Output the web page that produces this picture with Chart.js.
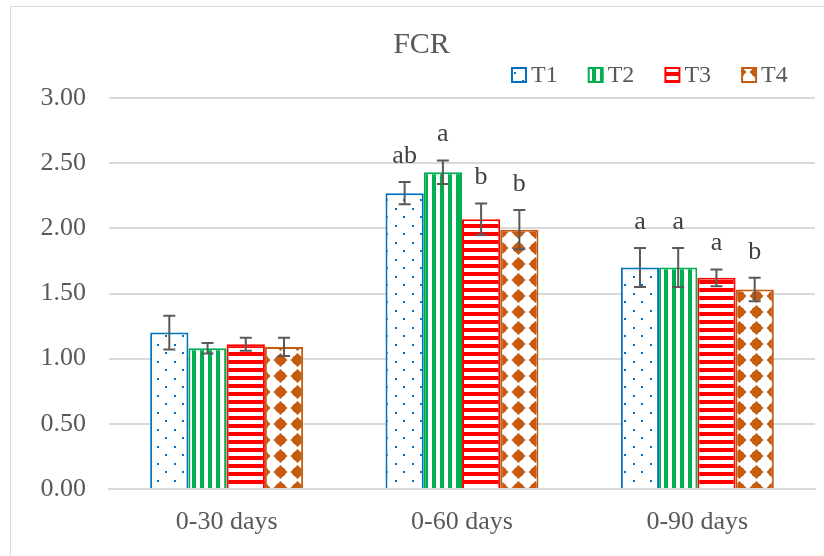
<!DOCTYPE html>
<html>
<head>
<meta charset="utf-8">
<script src="https://cdn.jsdelivr.net/npm/chart.js@4"></script>
<style>
    html, body { margin: 0; padding: 0; background: #fff; overflow: hidden; }
    #frame { position: absolute; left: 10px; top: 6px; width: 900px; height: 700px; border: 1px solid #D9D9D9; }
    #fcrChart { position: absolute; left: 0; top: 0; }
</style>
</head>
<body>
<div id="frame"></div>
<canvas id="fcrChart" width="824" height="556"></canvas>
<script>
// data
const categories = ['0-30 days', '0-60 days', '0-90 days'];
const seriesNames = ['T1', 'T2', 'T3', 'T4'];

const t1Values = [1.20, 2.27, 1.70];
const t2Values = [1.08, 2.43, 1.70];
const t3Values = [1.11, 2.07, 1.62];
const t4Values = [1.09, 1.99, 1.53];

const t1Errors = [0.13, 0.085, 0.15];
const t2Errors = [0.04, 0.09, 0.15];
const t3Errors = [0.05, 0.12, 0.065];
const t4Errors = [0.07, 0.15, 0.09];

const t1Letters = ['', 'ab', 'a'];
const t2Letters = ['', 'a', 'a'];
const t3Letters = ['', 'b', 'a'];
const t4Letters = ['', 'b', 'b'];

const yTicks = [0, 0.5, 1, 1.5, 2, 2.5, 3];

const FONT = "'Liberation Serif', 'Times New Roman', serif";
const TEXT = '#595959';
const GRID = '#D9D9D9';

// Excel-like fill patterns
function makePattern(kind, color) {
    const c = document.createElement('canvas');
    const ctx = c.getContext('2d');
    if (kind === 'dots') {
        c.width = 17; c.height = 17;
        ctx.fillStyle = '#fff';
        ctx.fillRect(0, 0, 17, 17);
        ctx.fillStyle = color;
        ctx.fillRect(4, 4, 2, 2);
        ctx.fillRect(12, 12, 2, 2);
    } else if (kind === 'vstripes') {
        c.width = 8; c.height = 8;
        ctx.fillStyle = '#fff';
        ctx.fillRect(0, 0, 8, 8);
        ctx.fillStyle = color;
        ctx.fillRect(0, 0, 4, 8);
    } else if (kind === 'hstripes') {
        c.width = 8; c.height = 8;
        ctx.fillStyle = '#fff';
        ctx.fillRect(0, 0, 8, 8);
        ctx.fillStyle = color;
        ctx.fillRect(0, 0, 8, 4);
    } else if (kind === 'diamonds') {
        c.width = 17; c.height = 16;
        ctx.fillStyle = '#fff';
        ctx.fillRect(0, 0, 17, 16);
        ctx.fillStyle = color;
        ctx.beginPath();
        ctx.moveTo(8.5, 1);
        ctx.lineTo(15.5, 8);
        ctx.lineTo(8.5, 15);
        ctx.lineTo(1.5, 8);
        ctx.closePath();
        ctx.fill();
        ctx.fillRect(4.5, 4, 8, 8);
    }
    return c.getContext('2d').createPattern(c, 'repeat');
}

const seriesColors = ['#0070C0', '#00B050', '#FF0000', '#C55A11'];
const seriesPatterns = [
    makePattern('dots', seriesColors[0]),
    makePattern('vstripes', seriesColors[1]),
    makePattern('hstripes', seriesColors[2]),
    makePattern('diamonds', seriesColors[3])
];
const allValues = [t1Values, t2Values, t3Values, t4Values];
const allErrors = [t1Errors, t2Errors, t3Errors, t4Errors];
const allLetters = [t1Letters, t2Letters, t3Letters, t4Letters];

const datasets = seriesNames.map((name, i) => ({
    label: name,
    data: allValues[i],
    errors: allErrors[i],
    letters: allLetters[i],
    backgroundColor: seriesPatterns[i],
    borderColor: seriesColors[i],
    borderWidth: 2,
    categoryPercentage: 0.65,
    barPercentage: 1.0
}));

// error bars + significance letters
const errorBarPlugin = {
    id: 'errorBars',
    afterDatasetsDraw(chart) {
        const ctx = chart.ctx;
        const y = chart.scales.y;
        ctx.save();
        chart.data.datasets.forEach((ds, i) => {
            const meta = chart.getDatasetMeta(i);
            meta.data.forEach((bar, j) => {
                const v = ds.data[j];
                const e = ds.errors[j];
                const top = y.getPixelForValue(v + e);
                const bot = y.getPixelForValue(v - e);
                ctx.strokeStyle = '#595959';
                ctx.lineWidth = 2;
                ctx.beginPath();
                ctx.moveTo(bar.x, top);
                ctx.lineTo(bar.x, bot);
                ctx.moveTo(bar.x - 6, top);
                ctx.lineTo(bar.x + 6, top);
                ctx.moveTo(bar.x - 6, bot);
                ctx.lineTo(bar.x + 6, bot);
                ctx.stroke();
                if (ds.letters[j]) {
                    ctx.fillStyle = '#404040';
                    ctx.font = '26px ' + FONT;
                    ctx.textAlign = 'center';
                    ctx.textBaseline = 'middle';
                    ctx.fillText(ds.letters[j], bar.x, top - 26);
                }
            });
        });
        ctx.restore();
    }
};

// legend drawn at the top right like the original
const legendPlugin = {
    id: 'patternLegend',
    afterDraw(chart) {
        const ctx = chart.ctx;
        ctx.save();
        ctx.font = '24px ' + FONT;
        ctx.textBaseline = 'middle';
        ctx.textAlign = 'left';
        chart.data.datasets.forEach((ds, i) => {
            const x = 512 + i * 76.7;
            const yc = 75;
            ctx.fillStyle = ds.backgroundColor;
            ctx.fillRect(x, yc - 7, 14, 14);
            ctx.strokeStyle = ds.borderColor;
            ctx.lineWidth = 2;
            ctx.strokeRect(x, yc - 7, 14, 14);
            ctx.fillStyle = TEXT;
            ctx.fillText(ds.label, x + 19, yc + 1);
        });
        ctx.restore();
    }
};

new Chart(document.getElementById('fcrChart').getContext('2d'), {
    type: 'bar',
    data: { labels: categories, datasets: datasets },
    options: {
        responsive: false,
        animation: false,
        layout: { padding: { left: 28, right: 9, top: 5, bottom: 0 } },
        plugins: {
            title: {
                display: true,
                text: 'FCR',
                color: TEXT,
                font: { family: FONT, size: 30, weight: 'normal' },
                padding: { top: 22, bottom: 35 }
            },
            legend: { display: false },
            tooltip: { enabled: false }
        },
        scales: {
            x: {
                grid: { display: false, drawTicks: false },
                border: { display: true, color: GRID, width: 2 },
                ticks: { color: TEXT, font: { family: FONT, size: 26 }, padding: 18 },
                afterFit(scale) { scale.height = 67; }
            },
            y: {
                min: 0,
                max: 3,
                afterBuildTicks(scale) { scale.ticks = yTicks.map(v => ({ value: v })); },
                grid: { color: GRID, lineWidth: 2, drawTicks: false },
                border: { display: false },
                ticks: {
                    color: TEXT,
                    font: { family: FONT, size: 26 },
                    padding: 23,
                    callback: v => Number(v).toFixed(2)
                },
                afterFit(scale) { scale.width = 81; }
            }
        }
    },
    plugins: [errorBarPlugin, legendPlugin]
});
</script>
</body>
</html>
